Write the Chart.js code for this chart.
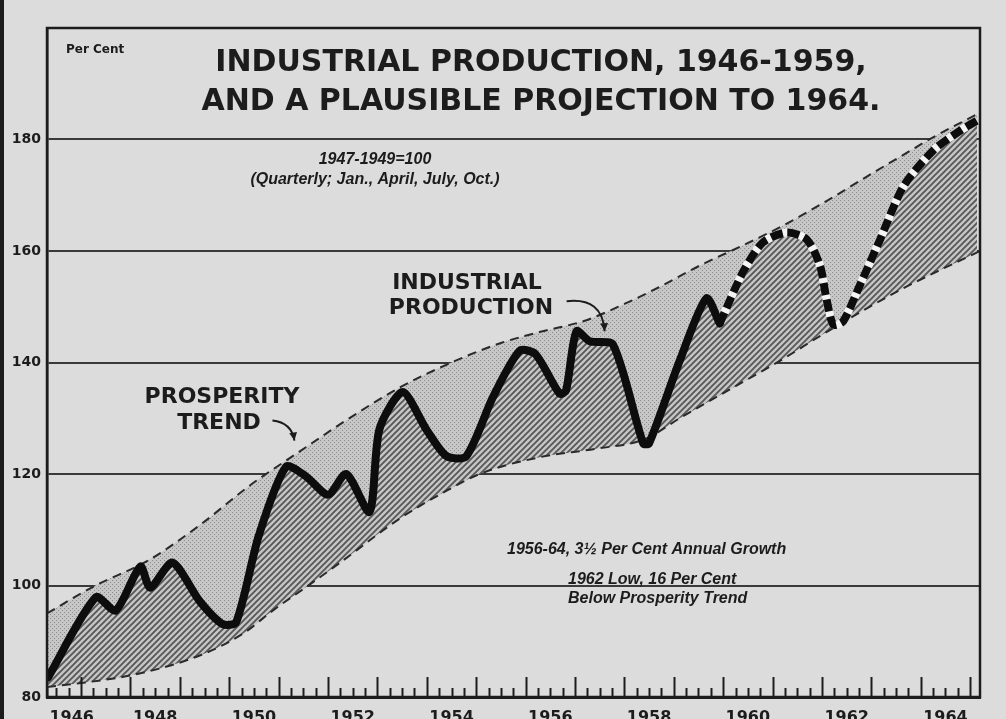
<!DOCTYPE html>
<html>
<head>
<meta charset="utf-8">
<title>Industrial Production, 1946-1959</title>
<script src="https://cdn.jsdelivr.net/npm/chart.js@4.4.1/dist/chart.umd.min.js"></script>
<style>
  html, body { margin: 0; padding: 0; background: #dcdcdc; }
  #wrap { width: 1006px; height: 719px; }
</style>
</head>
<body>
<div id="wrap"><canvas id="chart" width="1006" height="719"></canvas></div>
<script>
// index, 1947-1949 = 100 (x = year as decimal)
const prodYears  = [1946.33, 1947.3, 1947.7, 1948.2, 1948.4, 1948.85, 1949.4, 1949.86, 1950.14, 1950.6,
                    1951.15, 1951.55, 1952.0, 1952.37, 1952.84, 1953.04, 1953.51, 1953.99, 1954.4, 1954.8,
                    1955.34, 1955.88, 1956.2, 1956.69, 1956.82, 1957.03, 1957.3, 1957.77, 1958.38, 1958.5,
                    1959.12, 1959.66, 1959.93];
const prodValues = [83.5, 97.9, 95.5, 103.4, 99.6, 104.1, 97.2, 93.1, 93.4, 109,
                    121.3, 119.6, 116.3, 120, 113.2, 128, 134.7, 128, 123.2, 123.2,
                    133.8, 142.1, 141.5, 134.4, 135, 145.6, 143.8, 143.2, 125.5, 125.5,
                    140.3, 151.5, 147];

// plausible projection (dotted)
const projYears  = [1959.93, 1960.4, 1960.8, 1961.28, 1961.69, 1961.96, 1962.09, 1962.23, 1962.43, 1962.77,
                    1963.18, 1963.65, 1964.26, 1964.8, 1965.14];
const projValues = [147, 156.2, 161.5, 163.3, 162.1, 157.4, 151.5, 146.8, 147.4, 153.9,
                    162.1, 171.6, 178.1, 181.6, 183.4];

// prosperity trend (upper dashed)
const upperYears  = [1946.31, 1947.25, 1948.38, 1949.4, 1950.41, 1951.42, 1952.43, 1953.45, 1954.5, 1955.5,
                     1956.3, 1957.2, 1958.0, 1958.7, 1959.53, 1960.4, 1961.2, 1962.1, 1962.9, 1963.6,
                     1964.25, 1965.2];
const upperValues = [95, 99.8, 104.6, 110.8, 117.9, 124, 130, 135.5, 140, 143.5,
                     145.5, 147.5, 150.5, 153.5, 157.4, 161, 164.5, 169, 173.3, 177,
                     180.4, 184.8];

// lower bound (lower dashed)
const lowerYears  = [1946.31, 1947.0, 1948.18, 1949.5, 1950.3, 1950.88, 1951.6, 1952.23, 1953.45, 1954.3,
                     1955.07, 1956.28, 1957.4, 1958.4, 1959.12, 1960.1, 1961.15, 1962.1, 1963.58, 1965.2];
const lowerValues = [81.8, 82.5, 84.2, 87.8, 91.5, 95.5, 100, 104, 112, 116.5,
                     120, 123, 124.5, 126.2, 130, 135, 140.3, 145.5, 153, 160];

const yTicks = [80, 100, 120, 140, 160, 180];
const yearLabels = [1946, 1948, 1950, 1952, 1954, 1956, 1958, 1960, 1962, 1964];

const INK = '#1c1c1c';
const BOLD = '"DejaVu Sans", sans-serif';
const ITAL = '"Liberation Sans", Arial, sans-serif';

function pts(xs, ys) {
    return xs.map((x, i) => ({ x: x, y: ys[i] }));
}

// light dotted screen between the production line and the trend
function makeStipple() {
    const c = document.createElement('canvas');
    c.width = 4; c.height = 4;
    const g = c.getContext('2d');
    g.fillStyle = '#c7c7c7';
    g.fillRect(0, 0, 4, 4);
    g.fillStyle = '#8c8c8c';
    g.fillRect(0, 0, 1, 1);
    g.fillRect(2, 2, 1, 1);
    return g.createPattern(c, 'repeat');
}

// diagonal ruling under the production line
function makeHatch() {
    const s = 6;
    const c = document.createElement('canvas');
    c.width = s; c.height = s;
    const g = c.getContext('2d');
    g.fillStyle = '#c6c6c6';
    g.fillRect(0, 0, s, s);
    g.strokeStyle = '#585858';
    g.lineWidth = 1.9;
    g.beginPath();
    g.moveTo(0, s); g.lineTo(s, 0);
    g.moveTo(-s / 2, s / 2); g.lineTo(s / 2, -s / 2);
    g.moveTo(s / 2, s * 1.5); g.lineTo(s * 1.5, s / 2);
    g.stroke();
    return g.createPattern(c, 'repeat');
}

function drawArrow(ctx, x0, y0, cx, cy, x1, y1) {
    ctx.beginPath();
    ctx.moveTo(x0, y0);
    ctx.quadraticCurveTo(cx, cy, x1, y1);
    ctx.stroke();
    const a = Math.atan2(y1 - cy, x1 - cx);
    ctx.beginPath();
    ctx.moveTo(x1, y1);
    ctx.lineTo(x1 - 9 * Math.cos(a - 0.45), y1 - 9 * Math.sin(a - 0.45));
    ctx.lineTo(x1 - 9 * Math.cos(a + 0.45), y1 - 9 * Math.sin(a + 0.45));
    ctx.closePath();
    ctx.fill();
}

const texts = [
    { t: 'Per Cent', x: 66, y: 50, font: 'bold 12px ' + BOLD, align: 'left' },
    { t: 'INDUSTRIAL PRODUCTION, 1946-1959,', x: 541, y: 63, font: 'bold 30px ' + BOLD, align: 'center' },
    { t: 'AND A PLAUSIBLE PROJECTION TO 1964.', x: 541, y: 102, font: 'bold 30px ' + BOLD, align: 'center' },
    { t: '1947-1949=100', x: 375, y: 160, font: 'italic bold 16px ' + ITAL, align: 'center' },
    { t: '(Quarterly; Jan., April, July, Oct.)', x: 375, y: 180, font: 'italic bold 16px ' + ITAL, align: 'center' },
    { t: 'INDUSTRIAL', x: 467, y: 283, font: 'bold 22px ' + BOLD, align: 'center' },
    { t: 'PRODUCTION', x: 471, y: 308, font: 'bold 22px ' + BOLD, align: 'center' },
    { t: 'PROSPERITY', x: 222, y: 397, font: 'bold 22px ' + BOLD, align: 'center' },
    { t: 'TREND', x: 219, y: 423, font: 'bold 22px ' + BOLD, align: 'center' },
    { t: '1956-64, 3\u00bd Per Cent Annual Growth', x: 507, y: 550, font: 'italic bold 16px ' + ITAL, align: 'left' },
    { t: '1962 Low, 16 Per Cent', x: 568, y: 580, font: 'italic bold 16px ' + ITAL, align: 'left' },
    { t: 'Below Prosperity Trend', x: 568, y: 599, font: 'italic bold 16px ' + ITAL, align: 'left' }
];

const paperPlugin = {
    id: 'paper',
    beforeDraw(chart) {
        const ctx = chart.ctx;
        ctx.save();
        ctx.fillStyle = '#dcdcdc';
        ctx.fillRect(0, 0, chart.width, chart.height);
        // column rule at the left edge of the clipping
        ctx.fillStyle = INK;
        ctx.fillRect(0, 0, 4, chart.height);
        ctx.restore();
    },
    afterDatasetsDraw(chart) {
        const ctx = chart.ctx;
        const xs = chart.scales.x;
        const area = chart.chartArea;
        ctx.save();
        // quarterly tick marks standing up from the base line
        ctx.strokeStyle = INK;
        ctx.lineWidth = 2;
        for (let k = Math.ceil(xs.min * 4); k <= Math.floor(xs.max * 4); k++) {
            const px = Math.round(xs.getPixelForValue(k / 4)) + 0.5;
            const len = (k % 4 === 0) ? 20 : 9;
            ctx.beginPath();
            ctx.moveTo(px, area.bottom);
            ctx.lineTo(px, area.bottom - len);
            ctx.stroke();
        }
        // frame
        ctx.lineWidth = 2.5;
        ctx.strokeRect(area.left, area.top, area.right - area.left, area.bottom - area.top);
        ctx.restore();
    },
    afterDraw(chart) {
        const ctx = chart.ctx;
        const xs = chart.scales.x;
        const ys = chart.scales.y;
        ctx.save();
        ctx.fillStyle = INK;
        ctx.textBaseline = 'middle';
        texts.forEach(d => {
            ctx.font = d.font;
            ctx.textAlign = d.align;
            ctx.fillText(d.t, d.x, d.y);
        });
        // pointer arrows, tips placed on the lines they name
        ctx.strokeStyle = INK;
        ctx.lineWidth = 2;
        let tx = xs.getPixelForValue(1951.32), ty = ys.getPixelForValue(126);
        drawArrow(ctx, tx - 22, ty - 20, tx - 3, ty - 18, tx, ty);
        tx = xs.getPixelForValue(1957.6); ty = ys.getPixelForValue(145.6);
        drawArrow(ctx, tx - 38, ty - 30, tx - 2, ty - 34, tx, ty);
        ctx.restore();
    }
};

const stipple = makeStipple();
const hatch = makeHatch();

Chart.defaults.color = INK;

new Chart(document.getElementById('chart').getContext('2d'), {
    type: 'line',
    data: {
        datasets: [
            {   // actual production
                data: pts(prodYears, prodValues),
                borderColor: '#0d0d0d', borderWidth: 8, tension: 0.25,
                borderCapStyle: 'round', borderJoinStyle: 'round',
                pointRadius: 0, fill: false
            },
            {   // projection: black dashes
                data: pts(projYears, projValues),
                borderColor: '#0d0d0d', borderWidth: 8, tension: 0.25,
                borderDash: [12, 5], pointRadius: 0, fill: false
            },
            {   // projection: white underlay showing through the gaps
                data: pts(projYears, projValues),
                borderColor: '#f4f4f4', borderWidth: 8, tension: 0.25,
                pointRadius: 0, fill: false
            },
            {   // prosperity trend
                data: pts(upperYears, upperValues),
                borderColor: '#2a2a2a', borderWidth: 2, borderDash: [9, 6],
                cubicInterpolationMode: 'monotone',
                pointRadius: 0, fill: 5, backgroundColor: stipple
            },
            {   // lower bound
                data: pts(lowerYears, lowerValues),
                borderColor: '#2a2a2a', borderWidth: 2, borderDash: [9, 6],
                cubicInterpolationMode: 'monotone',
                pointRadius: 0, fill: 5, backgroundColor: hatch
            },
            {   // whole production path, only used as the fill boundary
                data: pts(prodYears, prodValues).concat(pts(projYears.slice(1), projValues.slice(1))),
                borderColor: 'rgba(0,0,0,0)', borderWidth: 0, tension: 0.25,
                pointRadius: 0, fill: false
            }
        ]
    },
    options: {
        responsive: false,
        animation: false,
        devicePixelRatio: 1,
        layout: { padding: { top: 28, right: 26, left: 0, bottom: 0 } },
        plugins: {
            legend: { display: false },
            tooltip: { enabled: false },
            filler: { drawTime: 'beforeDatasetsDraw' }
        },
        scales: {
            x: {
                type: 'linear',
                min: 1946.31,
                max: 1965.2,
                afterFit: s => { s.height = 22; },
                afterBuildTicks: s => {
                    // year names sit in the middle of their year, kept inside the frame
                    s.ticks = yearLabels.map(y => ({ value: Math.max(y + 0.5, s.min + 0.5) }));
                },
                ticks: {
                    autoSkip: false, maxRotation: 0, padding: 11,
                    font: { family: BOLD, weight: 'bold', size: 16 },
                    callback: (v, i) => String(yearLabels[i])
                },
                grid: { display: false, drawTicks: false },
                border: { display: true, color: INK, width: 3 }
            },
            y: {
                min: 80,
                max: 200,
                afterFit: s => { s.width = 47; },
                afterBuildTicks: s => { s.ticks = yTicks.map(v => ({ value: v })); },
                ticks: {
                    padding: 6,
                    font: { family: BOLD, weight: 'bold', size: 14 }
                },
                grid: {
                    drawTicks: false,
                    lineWidth: 2,
                    color: c => (c.tick && c.tick.value > 80) ? '#3a3a3a' : 'rgba(0,0,0,0)'
                },
                border: { display: true, color: INK, width: 2.5 }
            }
        }
    },
    plugins: [paperPlugin]
});
</script>
</body>
</html>
